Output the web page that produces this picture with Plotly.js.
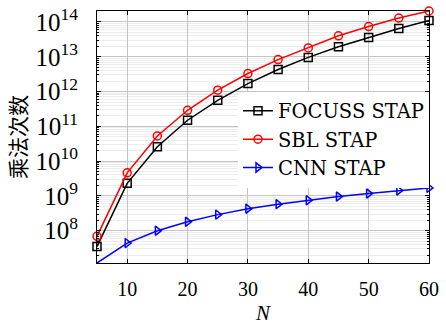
<!DOCTYPE html>
<html>
<head>
<meta charset="utf-8">
<script src="https://cdn.plot.ly/plotly-3.0.1.min.js"></script>
<style>html,body{margin:0;padding:0;background:#fff;}#chart{width:446px;height:327px;}</style>
</head>
<body>
<div id="chart"></div>
<script>
const N = [5, 10, 15, 20, 25, 30, 35, 40, 45, 50, 55, 60];
const focussStap = [3.5e7, 2.3e9, 2.6e10, 1.5e11, 5.6e11, 1.7e12, 4.3e12, 9.6e12, 1.95e13, 3.6e13, 6.5e13, 1.1e14];
const sblStap = [6.9e7, 4.6e9, 5.3e10, 2.9e11, 1.1e12, 3.3e12, 8.3e12, 1.8e13, 4.0e13, 7.4e13, 1.3e14, 2.07e14];
const cnnStap = [1.18e7, 4.4e7, 1.0e8, 1.8e8, 2.9e8, 4.3e8, 5.8e8, 7.5e8, 9.6e8, 1.17e9, 1.43e9, 1.7e9];
const seriesNames = ['FOCUSS STAP', 'SBL STAP', 'CNN STAP'];
const xTickVals = [10, 20, 30, 40, 50, 60];
const yTitle = '乘法次数';
const xTitle = '<i>N</i>';

const serif = "Liberation Serif";
function tr(y, name, color, symbol) {
  return {
    x: N, y: y, name: name, type: 'scatter', mode: 'lines+markers',
    line: {color: color, width: 1.5},
    marker: {symbol: symbol, size: 8, color: color, line: {color: color, width: 1.5}},
    cliponaxis: false
  };
}
const data = [
  tr(focussStap, seriesNames[0], '#000000', 'square-open'),
  tr(sblStap, seriesNames[1], '#ff0000', 'circle-open'),
  tr(cnnStap, seriesNames[2], '#0000ff', 'triangle-right-open')
];
const allY = focussStap.concat(sblStap, cnnStap);
const yMin = Math.log10(Math.min.apply(null, allY));
const yMax = Math.log10(Math.max.apply(null, allY));

const layout = {
  width: 446, height: 327,
  margin: {l: 97, r: 17, t: 11, b: 64},
  paper_bgcolor: '#fff', plot_bgcolor: '#fff',
  font: {family: serif, size: 19, color: '#000'},
  showlegend: true,
  legend: {x: 1, xanchor: 'right', y: 0.68, yanchor: 'top', bgcolor: '#fff', borderwidth: 0,
           font: {family: 'DejaVu Serif', size: 19.5}, tracegroupgap: 0},
  xaxis: {
    range: [N[0], N[N.length - 1]], tickmode: 'array', tickvals: xTickVals,
    ticks: 'inside', ticklen: 4, tickcolor: '#000', mirror: 'ticks', showline: true, linecolor: '#000', linewidth: 1,
    showgrid: true, gridcolor: '#c4c4c4', gridwidth: 1, zeroline: false,
    ticklabelstandoff: 8,
    tickfont: {family: serif, size: 20},
    title: {text: xTitle, font: {family: serif, size: 21}, standoff: 6}
  },
  yaxis: {
    type: 'log', range: [yMin, yMax], tickmode: 'linear', tick0: 0, dtick: 1, exponentformat: 'power',
    ticks: 'inside', ticklen: 4, tickcolor: '#000', mirror: 'ticks', showline: true, linecolor: '#000', linewidth: 1,
    showgrid: true, gridcolor: '#c4c4c4', gridwidth: 1, zeroline: false,
    minor: {ticks: 'inside', ticklen: 2, tickcolor: '#000', showgrid: true, gridcolor: '#ececec', dtick: 'D1'},
    ticklabelstandoff: 14,
    tickfont: {family: serif, size: 20},
    title: {text: yTitle, font: {family: "Noto Sans CJK SC", size: 21}, standoff: 3}
  }
};
Plotly.newPlot('chart', data, layout, {displayModeBar: false, staticPlot: true});
</script>
</body>
</html>
